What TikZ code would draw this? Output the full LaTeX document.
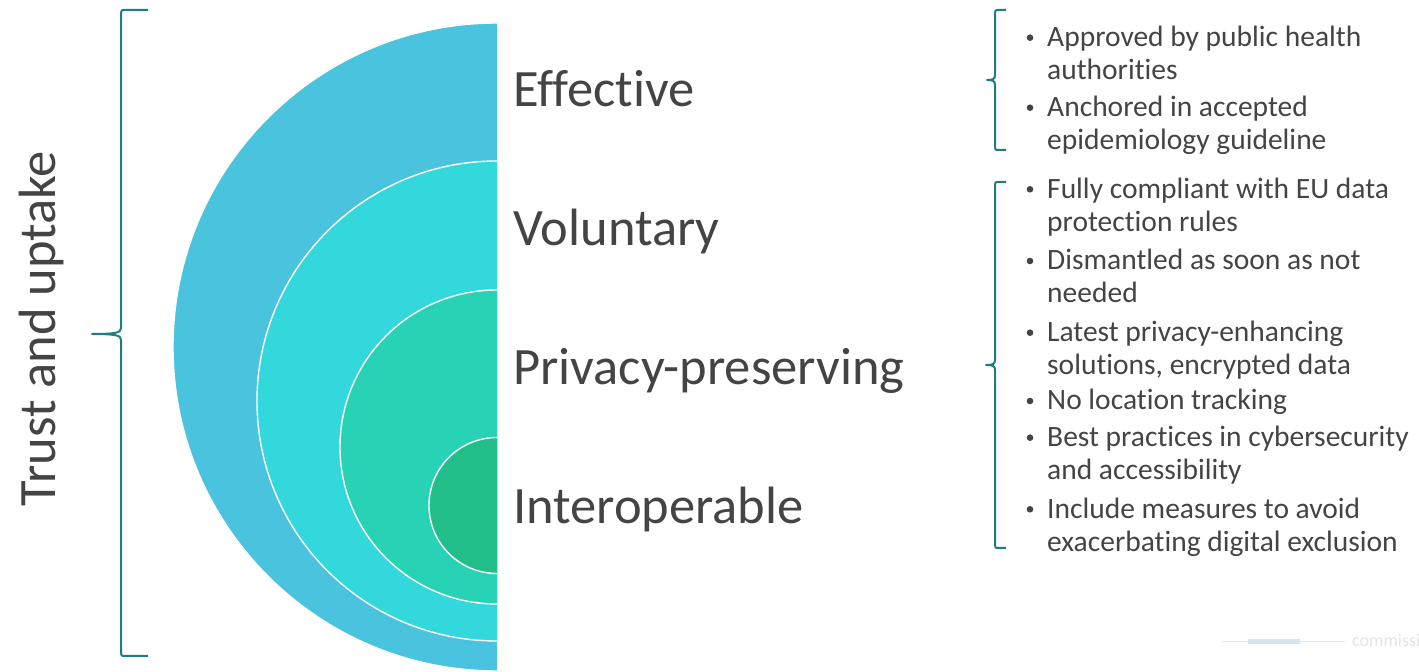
\documentclass[tikz,border=0pt]{standalone}
\usepackage{fontspec}
\setmainfont{Carlito}[Ligatures={NoCommon}]
\usepackage{tikz}
\usetikzlibrary{positioning}

\definecolor{ringA}{RGB}{74,195,222}
\definecolor{ringB}{RGB}{51,216,220}
\definecolor{ringC}{RGB}{40,210,180}
\definecolor{ringD}{RGB}{33,190,138}
\definecolor{braceteal}{RGB}{32,124,130}
\definecolor{textgray}{RGB}{68,68,68}
\definecolor{faintgray}{RGB}{226,229,233}
\definecolor{faintblue}{RGB}{214,226,238}

\begin{document}
\begin{tikzpicture}[x=1pt,y=1pt,ring/.style={draw=white,line width=1.4pt},font=\fontsize{52.5}{62}\selectfont]
            \tikzstyle{big label}=[anchor=base west,inner sep=0,text=textgray]
            \tikzstyle{bullet text}=[anchor=base west,inner sep=0,text=textgray,align=left,font=\fontsize{29.5}{33}\selectfont]
            \tikzstyle{brace line}=[draw=braceteal,line width=2pt,line join=round]
            \useasboundingbox (0,0) rectangle (1419,672);
            % nested half discs
            \foreach \r/\cy/\col in {324/325/ringA,240/271/ringB,157/225/ringC,68/166.5/ringD}{
              \fill[\col] (497,\cy+\r) arc[start angle=90,end angle=270,radius=\r] -- cycle;
              \draw[ring] (497,\cy+\r) arc[start angle=90,end angle=270,radius=\r];
            }
            \node[big label] (eff) at (513,565.5) {Effective};
            \node[big label] (vol) at (513,426.5) {Voluntary};
            \node[big label] (priv) at (513,287) {Privacy-preserving};
            \node[big label] (inter) at (513,148) {Interoperable};
            \node[text=textgray,rotate=90,anchor=base,inner sep=0] (trust) at (55,343.5) {Trust and uptake};
            % braces
            \draw[brace line] (148,662) -- (125,662) .. controls (121.5,662) .. (121,658.5) -- (121,344) .. controls (121,339.5) and (117,338) .. (92,338) .. controls (117,338) and (121,336.5) .. (121,332) -- (121,19.5) .. controls (121.5,16) .. (125,16) -- (148,16);
            \draw[brace line] (1006,662) -- (998,662) .. controls (995.5,662) .. (995,659.5) -- (995,597) .. controls (995,593) and (993,592) .. (987,592) .. controls (993,592) and (995,591) .. (995,587) -- (995,524.5) .. controls (995.5,522) .. (998,522) -- (1006,522);
            \draw[brace line] (1006,490) -- (998,490) .. controls (995.5,490) .. (995,487.5) -- (995,312) .. controls (995,308) and (993,307) .. (986,307) .. controls (993,307) and (995,306) .. (995,302) -- (995,126.5) .. controls (995.5,124) .. (998,124) -- (1006,124);
            % bullet items (placed at their last line)
            \node[bullet text] (b1) at (1047,592.3) {Approved by public health\\authorities};
            \node[bullet text] (b2) at (1047,522.3) {Anchored in accepted\\epidemiology guideline};
            \node[bullet text] (b3) at (1047,440.7) {Fully compliant with EU data\\protection rules};
            \node[bullet text] (b4) at (1047,369) {Dismantled as soon as not\\needed};
            \node[bullet text] (b5) at (1047,297.3) {Latest privacy-enhancing\\solutions, encrypted data};
            \node[bullet text] (b6) at (1047,262) {No location tracking};
            \node[bullet text] (b7) at (1047,192.3) {Best practices in cybersecurity\\and accessibility};
            \node[bullet text] (b8) at (1047,120.7) {Include measures to avoid\\exacerbating digital exclusion};
            \foreach \b in {b1,b2,b3,b4,b5,b7,b8}
              \fill[textgray] ([shift={(-17,42)}]\b.base west) circle[radius=3.3];
            \fill[textgray] ([shift={(-17,9)}]b6.base west) circle[radius=3.3];
            % faint footer
            \draw[faintgray,line width=1pt] (1222,30) -- (1345,30);
            \fill[faintblue] (1248,27.5) rectangle (1300,32.5);
            \node[anchor=base west,inner sep=0,text=faintgray,font=\fontsize{18}{20}\selectfont] (foot) at (1352,25) {commissi};
\end{tikzpicture}
\end{document}
